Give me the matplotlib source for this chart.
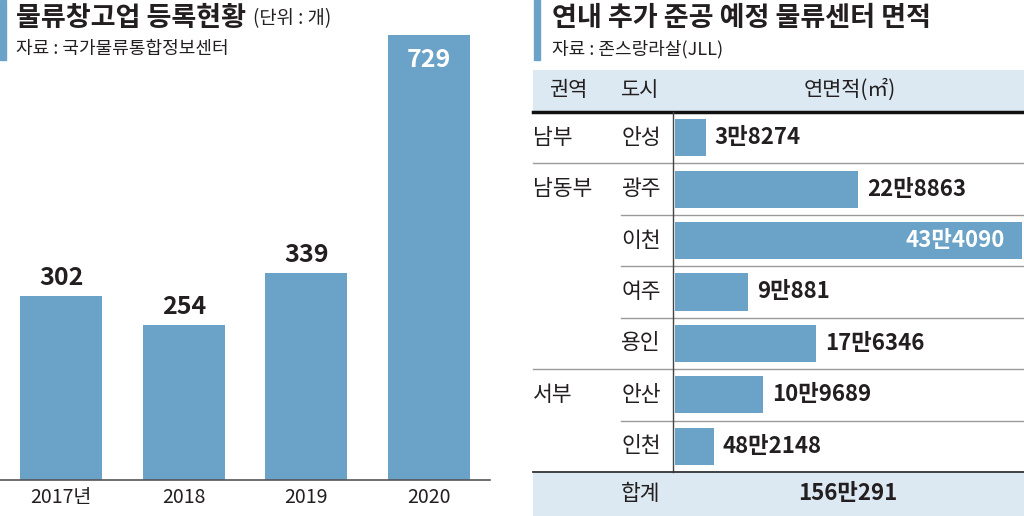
import matplotlib.pyplot as plt
from matplotlib.patches import Rectangle

plt.rcParams['font.family'] = ['Noto Sans CJK KR', 'DejaVu Sans']

W, H = 1024, 516
BLUE = '#6ba3c8'
BAND = '#dde9f2'
INK = '#231f20'

# 왼쪽: 물류창고업 등록현황
years = ['2017년', '2018', '2019', '2020']
counts = [302, 254, 339, 729]

# 오른쪽: 연내 추가 준공 예정 물류센터 면적
regions = ['남부', '남동부', '', '', '', '서부', '']
cities = ['안성', '광주', '이천', '여주', '용인', '안산', '인천']
areas = [38274, 228863, 434090, 90881, 176346, 109689, 482148]
# 원본 그림에서 인천 막대는 라벨과 달리 약 4만8천 길이로 그려져 있음
bar_lengths = [38274, 228863, 434090, 90881, 176346, 109689, 48215]


def man(v):
    return f'{v // 10000}만{v % 10000}'


def px_axes(x0, y0, x1, y1):
    return fig.add_axes([x0 / W, 1 - y1 / H, (x1 - x0) / W, (y1 - y0) / H])


fig = plt.figure(figsize=(W / 100, H / 100), dpi=100)

# 배경 레이어 (픽셀 좌표)
ov = px_axes(0, 0, W, H)
ov.set_xlim(0, W)
ov.set_ylim(H, 0)
ov.axis('off')

# 제목들
ov.add_patch(Rectangle((0, 0), 6, 60, color=BLUE))
ov.text(16, 18, '물류창고업 등록현황', fontsize=19.5, fontweight=900, color=INK, va='center')
ov.text(253, 19, '(단위 : 개)', fontsize=13.5, color=INK, va='center')
ov.text(16, 49, '자료 : 국가물류통합정보센터', fontsize=13, color=INK, va='center')

ov.add_patch(Rectangle((534, 0), 6, 60, color=BLUE))
ov.text(552, 18, '연내 추가 준공 예정 물류센터 면적', fontsize=19.5, fontweight=900, color=INK, va='center')
ov.text(552, 49, '자료 : 존스랑라살(JLL)', fontsize=13, color=INK, va='center')

# 표 머리
ov.add_patch(Rectangle((533, 70), W - 533, 41, color=BAND, lw=0))
ov.plot([533, W], [111.5, 111.5], color='#111111', lw=2.5)
ov.text(568, 90, '권역', fontsize=15, color=INK, ha='center', va='center')
ov.text(640, 90, '도시', fontsize=15, color=INK, ha='center', va='center')
ov.text(850, 90, '연면적(㎡)', fontsize=15, color=INK, ha='center', va='center')

top, bottom = 112, 472
row_h = (bottom - top) / len(cities)
for i in range(len(cities)):
    yc = top + row_h * (i + 0.5)
    if regions[i]:
        ov.text(533, yc, regions[i], fontsize=15.5, color=INK, va='center')
    ov.text(641, yc, cities[i], fontsize=15.5, color=INK, ha='center', va='center')
    if i < len(cities) - 1:
        yb = top + row_h * (i + 1)
        x0 = 533 if regions[i + 1] else 621
        ov.plot([x0, W], [yb, yb], color='#9a9a9a', lw=1)
ov.plot([673, 673], [top, bottom], color='#444444', lw=1)
ov.add_patch(Rectangle((533, bottom), W - 533, H - bottom, color=BAND, lw=0))
ov.plot([533, W], [bottom, bottom], color='#333333', lw=1.3)
ov.text(641, 494, '합계', fontsize=15.5, color=INK, ha='center', va='center')
ov.text(848, 494, man(sum(areas)), fontsize=16, fontweight='bold', color=INK,
        ha='center', va='center')

# 왼쪽 막대그래프
ax = px_axes(0, 0, 490, 480)
ax.patch.set_visible(False)
ax.bar(range(len(years)), counts, width=0.67, color=BLUE)
ax.set_xlim(-0.5, len(years) - 0.5)
ax.set_ylim(0, 480 / 0.6105)
for s in ['top', 'left', 'right']:
    ax.spines[s].set_visible(False)
ax.spines['bottom'].set_color('#555555')
ax.spines['bottom'].set_linewidth(1.2)
ax.set_yticks([])
ax.set_xticks(range(len(years)), years, fontsize=14, color=INK)
ax.tick_params(axis='x', length=0, pad=5)
for i, v in enumerate(counts):
    if v > 600:
        ax.annotate(str(v), (i, v), xytext=(0, -25), textcoords='offset pixels',
                    ha='center', va='center', fontsize=18, fontweight='bold', color='white')
    else:
        ax.annotate(str(v), (i, v), xytext=(0, 18), textcoords='offset pixels',
                    ha='center', va='center', fontsize=18, fontweight='bold', color=INK)

# 오른쪽 가로 막대
bx = px_axes(675, top, 1022, bottom)
bx.patch.set_visible(False)
bx.barh(range(len(cities)), bar_lengths, height=0.72, color=BLUE)
bx.set_xlim(0, max(bar_lengths))
bx.set_ylim(len(cities) - 0.5, -0.5)
bx.axis('off')
for i, (b, a) in enumerate(zip(bar_lengths, areas)):
    if b == max(bar_lengths):
        bx.annotate(man(a), (b, i), xytext=(-17, 0), textcoords='offset pixels',
                    ha='right', va='center', fontsize=16, fontweight='bold', color='white',
                    annotation_clip=False)
    else:
        bx.annotate(man(a), (b, i), xytext=(9, 0), textcoords='offset pixels',
                    ha='left', va='center', fontsize=16, fontweight='bold', color=INK,
                    annotation_clip=False)

fig.savefig('out.png', dpi=100)
